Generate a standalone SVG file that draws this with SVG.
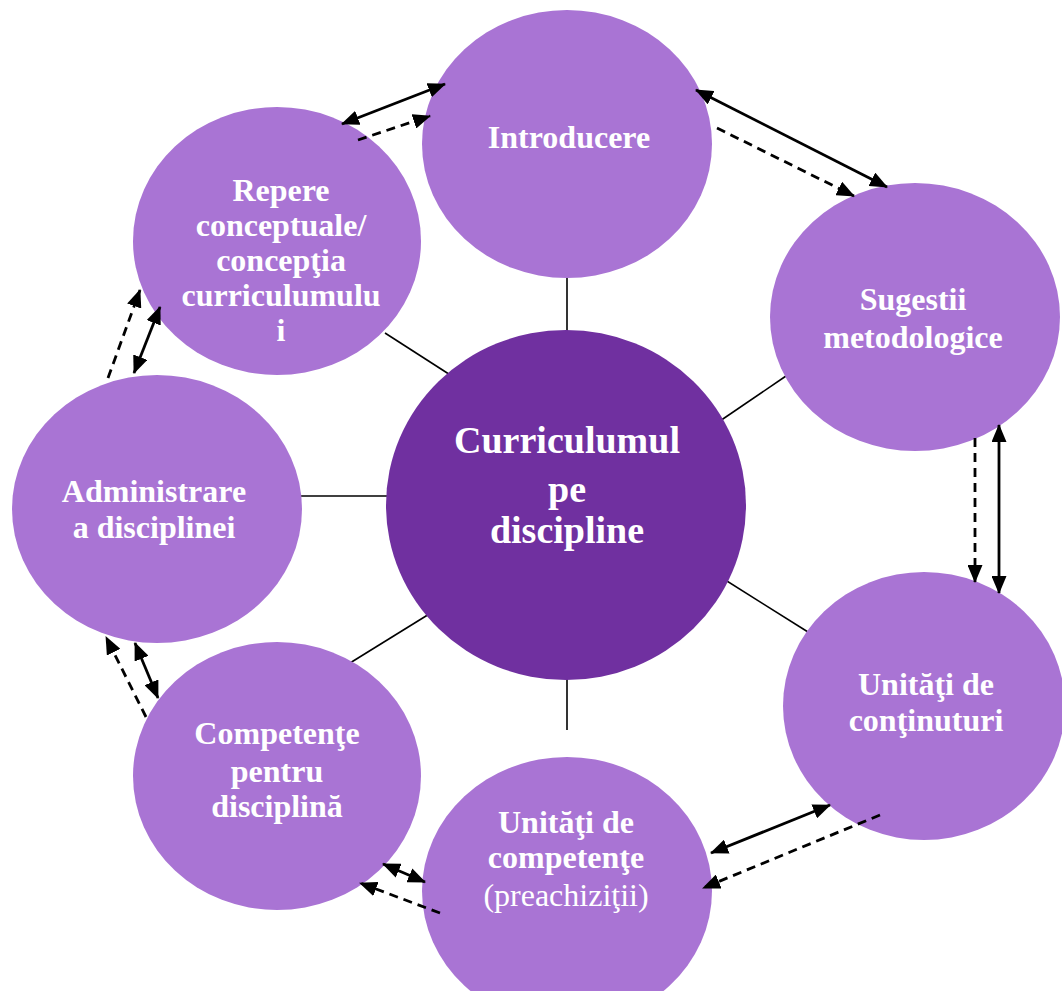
<svg xmlns="http://www.w3.org/2000/svg" width="1062" height="991" viewBox="0 0 1062 991">
<style>
.n{fill:#A974D4}
.c{fill:#7030A0}
.t{font-family:"Liberation Serif","Times New Roman",serif;font-weight:bold;fill:#FFFFFF;text-anchor:middle;font-size:32px}
.tc{font-size:38px}
.reg{font-weight:normal}
.ln{stroke:#000;stroke-width:1.6;fill:none}
.a{stroke:#000;stroke-width:2.8;fill:none;marker-end:url(#ah)}
.a2{marker-start:url(#ah)}
.d{stroke-dasharray:9 6}
</style>
<defs>
<marker id="ah" viewBox="0 0 18 15" refX="17" refY="7.5" markerWidth="18" markerHeight="15" markerUnits="userSpaceOnUse" orient="auto-start-reverse">
<path d="M0,0 L18,7.5 L0,15 z" fill="#000"/>
</marker>
</defs>
<rect width="1062" height="991" fill="#FFFFFF"/>
<g id="connectors">
<line class="ln" x1="567" y1="278" x2="567" y2="347"/>
<line class="ln" x1="385" y1="333" x2="455" y2="378"/>
<line class="ln" x1="786" y1="376" x2="717" y2="423"/>
<line class="ln" x1="298" y1="496" x2="391" y2="496"/>
<line class="ln" x1="350" y1="663" x2="447" y2="603"/>
<line class="ln" x1="567" y1="658" x2="567" y2="730"/>
<line class="ln" x1="711" y1="571" x2="808" y2="632"/>
</g>
<g id="n-intro"><ellipse class="n" cx="567" cy="144" rx="145" ry="134"/><text class="t" x="569" y="148">Introducere</text></g>
<g id="n-repere"><ellipse class="n" cx="277" cy="241" rx="144" ry="134"/>
<text class="t" x="281" y="201">Repere</text>
<text class="t" x="281" y="236">conceptuale/</text>
<text class="t" x="281" y="271">concepţia</text>
<text class="t" x="281" y="306">curriculumulu</text>
<text class="t" x="281" y="341">i</text></g>
<g id="n-sugestii"><ellipse class="n" cx="915" cy="317" rx="145" ry="134"/>
<text class="t" x="913" y="310">Sugestii</text>
<text class="t" x="913" y="348">metodologice</text></g>
<g id="n-continut"><ellipse class="n" cx="924" cy="706" rx="141" ry="134"/>
<text class="t" x="926" y="695">Unităţi de</text>
<text class="t" x="926" y="731">conţinuturi</text></g>
<g id="n-competente-u"><ellipse class="n" cx="567" cy="891" rx="145" ry="134"/>
<text class="t" x="566" y="833">Unităţi de</text>
<text class="t" x="566" y="868">competenţe</text>
<text class="t reg" x="566" y="906">(preachiziţii)</text></g>
<g id="n-competente-d"><ellipse class="n" cx="277" cy="776" rx="144" ry="134"/>
<text class="t" x="277" y="744">Competenţe</text>
<text class="t" x="277" y="782">pentru</text>
<text class="t" x="277" y="817">disciplină</text></g>
<g id="n-admin"><ellipse class="n" cx="157" cy="509" rx="145" ry="134"/>
<text class="t" x="154" y="502">Administrare</text>
<text class="t" x="154" y="538">a disciplinei</text></g>
<g id="n-center"><ellipse class="c" cx="566" cy="505" rx="180" ry="175"/>
<text class="t tc" x="567" y="453">Curriculumul</text>
<text class="t tc" x="567" y="502">pe</text>
<text class="t tc" x="567" y="543">discipline</text></g>
<g id="arrows">
<line class="a a2" x1="342" y1="124" x2="445" y2="84"/>
<line class="a d" x1="358" y1="140" x2="430" y2="116"/>
<line class="a a2" x1="696" y1="90" x2="887" y2="187"/>
<line class="a d" x1="717" y1="128" x2="854" y2="196"/>
<line class="a d" x1="975" y1="438" x2="975" y2="582"/>
<line class="a a2" x1="999" y1="425" x2="999" y2="593"/>
<line class="a a2" x1="830" y1="805" x2="711" y2="853"/>
<line class="a d" x1="880" y1="815" x2="703" y2="888"/>
<line class="a a2" x1="383" y1="864" x2="425" y2="882"/>
<line class="a d" x1="440" y1="913" x2="360" y2="883"/>
<line class="a a2" x1="135" y1="643" x2="158" y2="698"/>
<line class="a d" x1="146" y1="717" x2="106" y2="637"/>
<line class="a a2" x1="160" y1="307" x2="134" y2="373"/>
<line class="a d" x1="108" y1="378" x2="140" y2="290"/>
</g>
</svg>
